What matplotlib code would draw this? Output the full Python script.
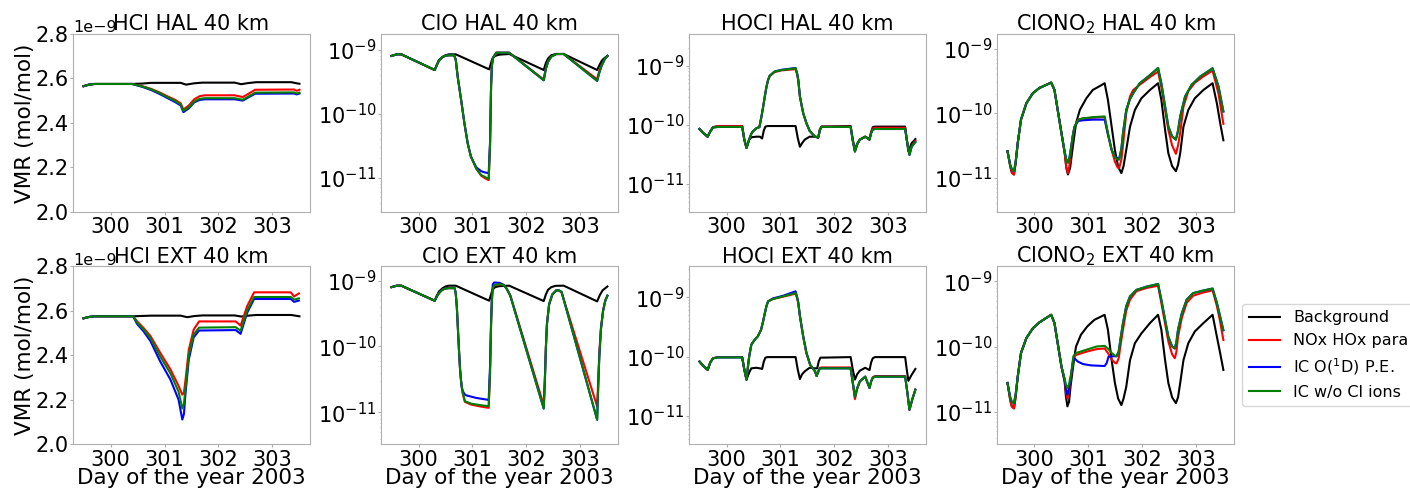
import numpy as np
import matplotlib
matplotlib.use("Agg")
import matplotlib.pyplot as plt

# ---------------- labels ----------------
series_labels = ["Background", "NOx HOx para", r"IC O($^1$D) P.E.", "IC w/o Cl ions"]
series_colors = ["black", "red", "blue", "green"]
species = ["HCl", "ClO", "HOCl", r"ClONO$_2$"]
runs = ["HAL", "EXT"]
xticks = [300, 301, 302, 303]
hcl_yticks = [2.0e-9, 2.2e-9, 2.4e-9, 2.6e-9, 2.8e-9]

# ---------------- HCl (values in 1e-9 mol/mol) ----------------
hcl_hal_bg = [(299.50, 2.565), (299.60, 2.572), (299.70, 2.575), (300.40, 2.575), (300.60, 2.577), (300.75, 2.580),
              (301.30, 2.580), (301.40, 2.572), (301.55, 2.578), (301.70, 2.581), (302.30, 2.581), (302.42, 2.574),
              (302.55, 2.579), (302.70, 2.583), (303.35, 2.583), (303.45, 2.578), (303.50, 2.576)]
hcl_hal_nox = [(299.50, 2.565), (299.60, 2.572), (299.70, 2.575), (300.40, 2.575), (300.50, 2.570), (300.60, 2.564),
               (300.75, 2.553), (300.90, 2.538), (301.05, 2.520), (301.20, 2.503), (301.30, 2.488), (301.35, 2.460),
               (301.45, 2.478), (301.55, 2.506), (301.65, 2.520), (301.75, 2.524), (302.30, 2.524), (302.45, 2.516),
               (302.55, 2.530), (302.68, 2.549), (303.40, 2.550), (303.45, 2.544), (303.50, 2.549)]
hcl_hal_o1d = [(299.50, 2.565), (299.60, 2.572), (299.70, 2.575), (300.40, 2.575), (300.50, 2.568), (300.60, 2.561),
               (300.75, 2.548), (300.90, 2.531), (301.05, 2.512), (301.20, 2.493), (301.30, 2.478), (301.35, 2.448),
               (301.45, 2.465), (301.55, 2.492), (301.65, 2.503), (301.75, 2.506), (302.30, 2.506), (302.45, 2.500),
               (302.55, 2.514), (302.68, 2.531), (303.40, 2.532), (303.45, 2.528), (303.50, 2.532)]
hcl_hal_nocl = [(299.50, 2.565), (299.60, 2.572), (299.70, 2.575), (300.40, 2.575), (300.50, 2.569), (300.60, 2.563),
                (300.75, 2.551), (300.90, 2.535), (301.05, 2.516), (301.20, 2.498), (301.30, 2.483), (301.35, 2.454),
                (301.45, 2.470), (301.55, 2.496), (301.65, 2.508), (301.75, 2.511), (302.30, 2.511), (302.45, 2.504),
                (302.55, 2.518), (302.68, 2.536), (303.40, 2.537), (303.45, 2.532), (303.50, 2.536)]

hcl_ext_bg = [(299.50, 2.566), (299.60, 2.572), (299.70, 2.575), (300.40, 2.575), (300.75, 2.578), (301.30, 2.578),
              (301.42, 2.571), (301.55, 2.576), (301.70, 2.579), (302.30, 2.579), (302.42, 2.574), (302.55, 2.578),
              (302.70, 2.581), (303.35, 2.581), (303.45, 2.577), (303.50, 2.575)]
hcl_ext_nox = [(299.50, 2.566), (299.60, 2.572), (299.70, 2.575), (300.42, 2.575), (300.49, 2.553), (300.61, 2.523),
               (300.74, 2.486), (300.92, 2.411), (301.11, 2.336), (301.26, 2.262), (301.33, 2.222), (301.36, 2.232),
               (301.39, 2.290), (301.45, 2.424), (301.54, 2.515), (301.64, 2.552), (302.32, 2.552), (302.41, 2.533),
               (302.53, 2.620), (302.66, 2.683), (303.34, 2.683), (303.40, 2.664), (303.49, 2.678)]
hcl_ext_o1d = [(299.50, 2.566), (299.60, 2.572), (299.70, 2.575), (300.42, 2.575), (300.49, 2.541), (300.61, 2.508),
               (300.74, 2.463), (300.92, 2.372), (301.11, 2.290), (301.26, 2.200), (301.33, 2.110), (301.36, 2.135),
               (301.39, 2.230), (301.45, 2.380), (301.54, 2.480), (301.64, 2.511), (302.32, 2.513), (302.41, 2.496),
               (302.53, 2.590), (302.66, 2.653), (303.34, 2.653), (303.40, 2.640), (303.49, 2.646)]
hcl_ext_nocl = [(299.50, 2.566), (299.60, 2.572), (299.70, 2.575), (300.42, 2.575), (300.49, 2.547), (300.61, 2.516),
                (300.74, 2.476), (300.92, 2.394), (301.11, 2.318), (301.26, 2.236), (301.33, 2.160), (301.36, 2.180),
                (301.39, 2.255), (301.45, 2.400), (301.54, 2.493), (301.64, 2.524), (302.32, 2.526), (302.41, 2.510),
                (302.53, 2.600), (302.66, 2.662), (303.34, 2.662), (303.40, 2.650), (303.49, 2.656)]

# ---------------- ClO (log10 of mol/mol) ----------------
clo_hal_bg = [(299.50, -9.10), (299.60, -9.075), (299.68, -9.075), (300.30, -9.32), (300.34, -9.24), (300.38, -9.165),
              (300.44, -9.12), (300.50, -9.09), (300.56, -9.075), (300.69, -9.075), (301.31, -9.31), (301.34, -9.22),
              (301.37, -9.14), (301.42, -9.10), (301.50, -9.08), (301.68, -9.07), (302.32, -9.32), (302.36, -9.21),
              (302.40, -9.14), (302.46, -9.09), (302.54, -9.072), (302.69, -9.07), (303.31, -9.32), (303.36, -9.23),
              (303.40, -9.17), (303.45, -9.13), (303.50, -9.10)]
clo_hal_nox = [(299.50, -9.10), (299.60, -9.075), (299.68, -9.075), (300.30, -9.32), (300.34, -9.24), (300.38, -9.17),
               (300.44, -9.12), (300.50, -9.095), (300.56, -9.09), (300.66, -9.09), (300.69, -9.16), (300.725, -9.42),
               (300.76, -9.62), (300.79, -9.79), (300.85, -10.15), (300.91, -10.46), (300.97, -10.67), (301.07, -10.86),
               (301.16, -10.97), (301.23, -11.01), (301.30, -11.04), (301.325, -10.50), (301.345, -9.55), (301.36, -9.25),
               (301.38, -9.13), (301.44, -9.05), (301.68, -9.05), (302.32, -9.47), (302.36, -9.29), (302.40, -9.19),
               (302.46, -9.11), (302.55, -9.07), (302.69, -9.07), (303.31, -9.465), (303.35, -9.33), (303.39, -9.25),
               (303.45, -9.15), (303.50, -9.10)]
clo_hal_o1d = [(299.50, -9.10), (299.60, -9.075), (299.68, -9.075), (300.30, -9.32), (300.34, -9.24), (300.38, -9.17),
               (300.44, -9.12), (300.50, -9.095), (300.56, -9.09), (300.66, -9.09), (300.69, -9.16), (300.725, -9.42),
               (300.76, -9.62), (300.79, -9.79), (300.85, -10.15), (300.91, -10.46), (300.97, -10.67), (301.07, -10.84),
               (301.16, -10.90), (301.23, -10.92), (301.30, -10.93), (301.325, -10.45), (301.345, -9.55), (301.36, -9.25),
               (301.38, -9.13), (301.44, -9.05), (301.68, -9.05), (302.32, -9.48), (302.36, -9.30), (302.40, -9.19),
               (302.46, -9.11), (302.55, -9.07), (302.69, -9.07), (303.31, -9.49), (303.35, -9.36), (303.39, -9.26),
               (303.45, -9.15), (303.50, -9.10)]
clo_hal_nocl = [(299.50, -9.10), (299.60, -9.075), (299.68, -9.075), (300.30, -9.32), (300.34, -9.24), (300.38, -9.17),
                (300.44, -9.12), (300.50, -9.095), (300.56, -9.09), (300.66, -9.09), (300.69, -9.16), (300.725, -9.42),
                (300.76, -9.62), (300.79, -9.79), (300.85, -10.15), (300.91, -10.46), (300.97, -10.67), (301.07, -10.86),
                (301.16, -10.96), (301.23, -10.99), (301.30, -11.02), (301.325, -10.50), (301.345, -9.55), (301.36, -9.25),
                (301.38, -9.13), (301.44, -9.05), (301.68, -9.05), (302.32, -9.48), (302.36, -9.30), (302.40, -9.19),
                (302.46, -9.11), (302.55, -9.07), (302.69, -9.07), (303.31, -9.49), (303.35, -9.36), (303.39, -9.26),
                (303.45, -9.15), (303.50, -9.10)]

clo_ext_bg = [(299.50, -9.10), (299.60, -9.078), (299.68, -9.078), (300.30, -9.306), (300.34, -9.23), (300.38, -9.165),
              (300.44, -9.12), (300.50, -9.09), (300.56, -9.078), (300.69, -9.078), (301.31, -9.306), (301.34, -9.22),
              (301.37, -9.14), (301.42, -9.10), (301.50, -9.085), (301.68, -9.078), (302.32, -9.311), (302.36, -9.21),
              (302.40, -9.14), (302.46, -9.10), (302.54, -9.08), (302.69, -9.078), (303.31, -9.316), (303.36, -9.22),
              (303.41, -9.15), (303.50, -9.09)]
clo_ext_nox = [(299.50, -9.10), (299.60, -9.078), (299.68, -9.078), (300.30, -9.306), (300.34, -9.24), (300.38, -9.19),
               (300.44, -9.14), (300.50, -9.12), (300.56, -9.115), (300.67, -9.115), (300.69, -9.20), (300.71, -9.40),
               (300.725, -9.65), (300.74, -9.90), (300.756, -10.15), (300.77, -10.35), (300.787, -10.51), (300.818, -10.71),
               (300.86, -10.84), (300.97, -10.88), (301.15, -10.91), (301.30, -10.93), (301.325, -10.40), (301.345, -9.65),
               (301.36, -9.30), (301.376, -9.12), (301.40, -9.07), (301.50, -9.055), (301.58, -9.07), (301.63, -9.12),
               (301.70, -9.22), (302.32, -10.89), (302.34, -10.50), (302.36, -10.00), (302.38, -9.65), (302.42, -9.36),
               (302.48, -9.21), (302.55, -9.15), (302.60, -9.15), (302.65, -9.18), (303.31, -10.91), (303.33, -10.50),
               (303.35, -10.10), (303.38, -9.72), (303.42, -9.45), (303.46, -9.30), (303.50, -9.23)]
clo_ext_o1d = [(299.50, -9.10), (299.60, -9.078), (299.68, -9.078), (300.30, -9.306), (300.34, -9.24), (300.38, -9.19),
               (300.44, -9.14), (300.50, -9.12), (300.56, -9.115), (300.67, -9.115), (300.69, -9.20), (300.71, -9.40),
               (300.725, -9.65), (300.74, -9.90), (300.756, -10.15), (300.77, -10.35), (300.787, -10.51), (300.80, -10.62),
               (300.818, -10.67), (300.85, -10.72), (300.88, -10.74), (301.07, -10.78), (301.30, -10.81), (301.325, -10.30),
               (301.345, -9.60), (301.36, -9.25), (301.376, -9.06), (301.40, -9.03), (301.50, -9.035), (301.58, -9.065),
               (301.63, -9.12), (301.70, -9.23), (302.32, -10.94), (302.34, -10.55), (302.36, -10.02), (302.38, -9.66),
               (302.42, -9.36), (302.48, -9.21), (302.55, -9.15), (302.60, -9.15), (302.65, -9.17), (303.31, -11.11),
               (303.33, -10.60), (303.35, -10.15), (303.38, -9.74), (303.42, -9.46), (303.46, -9.31), (303.50, -9.23)]
clo_ext_nocl = [(299.50, -9.10), (299.60, -9.078), (299.68, -9.078), (300.30, -9.306), (300.34, -9.24), (300.38, -9.19),
                (300.44, -9.14), (300.50, -9.12), (300.56, -9.115), (300.67, -9.115), (300.69, -9.20), (300.71, -9.40),
                (300.725, -9.65), (300.74, -9.90), (300.756, -10.15), (300.77, -10.35), (300.787, -10.51), (300.818, -10.70),
                (300.86, -10.83), (300.97, -10.865), (301.15, -10.89), (301.30, -10.905), (301.325, -10.40), (301.345, -9.65),
                (301.36, -9.30), (301.376, -9.12), (301.40, -9.07), (301.50, -9.053), (301.58, -9.07), (301.63, -9.12),
                (301.70, -9.23), (302.32, -10.94), (302.34, -10.55), (302.36, -10.02), (302.38, -9.66), (302.42, -9.36),
                (302.48, -9.21), (302.55, -9.15), (302.60, -9.15), (302.65, -9.17), (303.31, -11.11), (303.33, -10.60),
                (303.35, -10.15), (303.38, -9.74), (303.42, -9.46), (303.46, -9.31), (303.50, -9.23)]

# ---------------- HOCl (log10 of mol/mol) ----------------
hocl_hal_bg = [(299.50, -10.07), (299.56, -10.13), (299.65, -10.20), (299.70, -10.11), (299.75, -10.04), (299.85, -10.02),
               (300.29, -10.02), (300.33, -10.25), (300.37, -10.39), (300.42, -10.25), (300.46, -10.21), (300.55, -10.20),
               (300.62, -10.20), (300.66, -10.23), (300.69, -10.10), (300.72, -10.03), (300.76, -10.02), (301.28, -10.02),
               (301.32, -10.22), (301.36, -10.37), (301.40, -10.31), (301.45, -10.25), (301.54, -10.20), (301.64, -10.20),
               (301.70, -10.22), (301.73, -10.08), (301.76, -10.03), (302.30, -10.02), (302.34, -10.25), (302.38, -10.43),
               (302.42, -10.32), (302.47, -10.25), (302.57, -10.20), (302.65, -10.24), (302.68, -10.12), (302.71, -10.04),
               (302.75, -10.03), (303.31, -10.03), (303.34, -10.25), (303.37, -10.45), (303.43, -10.31), (303.50, -10.24)]
hocl_hal_nox = [(299.50, -10.07), (299.56, -10.13), (299.65, -10.20), (299.70, -10.11), (299.75, -10.04), (299.85, -10.02),
                (300.29, -10.02), (300.33, -10.25), (300.37, -10.39), (300.42, -10.25), (300.46, -10.15), (300.49, -10.11),
                (300.55, -10.06), (300.61, -10.03), (300.65, -9.85), (300.68, -9.69), (300.71, -9.52), (300.74, -9.36),
                (300.77, -9.25), (300.80, -9.18), (300.89, -9.11), (301.02, -9.08), (301.28, -9.06), (301.31, -9.15),
                (301.33, -9.25), (301.36, -9.52), (301.42, -9.80), (301.48, -9.97), (301.54, -10.10), (301.64, -10.20),
                (301.70, -10.21), (301.73, -10.08), (301.76, -10.03), (302.30, -10.03), (302.34, -10.26), (302.38, -10.45),
                (302.42, -10.33), (302.47, -10.25), (302.57, -10.20), (302.65, -10.25), (302.68, -10.13), (302.71, -10.06),
                (302.75, -10.05), (303.31, -10.05), (303.35, -10.30), (303.39, -10.49), (303.43, -10.36), (303.50, -10.27)]
hocl_hal_o1d = [(299.50, -10.07), (299.56, -10.13), (299.65, -10.20), (299.70, -10.11), (299.75, -10.045), (299.85, -10.035),
                (300.29, -10.035), (300.33, -10.25), (300.37, -10.39), (300.42, -10.25), (300.46, -10.15), (300.49, -10.11),
                (300.55, -10.06), (300.61, -10.04), (300.65, -9.85), (300.68, -9.69), (300.71, -9.52), (300.74, -9.36),
                (300.77, -9.24), (300.80, -9.17), (300.89, -9.10), (301.02, -9.07), (301.28, -9.04), (301.31, -9.14),
                (301.33, -9.24), (301.36, -9.52), (301.42, -9.80), (301.48, -9.97), (301.54, -10.10), (301.64, -10.20),
                (301.70, -10.21), (301.73, -10.09), (301.76, -10.035), (302.30, -10.035), (302.34, -10.27), (302.38, -10.45),
                (302.42, -10.33), (302.47, -10.25), (302.57, -10.20), (302.65, -10.25), (302.68, -10.14), (302.71, -10.08),
                (302.75, -10.07), (303.31, -10.07), (303.35, -10.31), (303.39, -10.51), (303.43, -10.37), (303.50, -10.29)]
hocl_hal_nocl = [(299.50, -10.07), (299.56, -10.13), (299.65, -10.20), (299.70, -10.11), (299.75, -10.045), (299.85, -10.035),
                 (300.29, -10.035), (300.33, -10.25), (300.37, -10.39), (300.42, -10.25), (300.46, -10.15), (300.49, -10.11),
                 (300.55, -10.06), (300.61, -10.04), (300.65, -9.85), (300.68, -9.69), (300.71, -9.52), (300.74, -9.36),
                 (300.77, -9.24), (300.80, -9.17), (300.89, -9.10), (301.02, -9.075), (301.28, -9.045), (301.31, -9.14),
                 (301.33, -9.24), (301.36, -9.52), (301.42, -9.80), (301.48, -9.97), (301.54, -10.10), (301.64, -10.20),
                 (301.70, -10.21), (301.73, -10.09), (301.76, -10.035), (302.30, -10.035), (302.34, -10.27), (302.38, -10.45),
                 (302.42, -10.33), (302.47, -10.25), (302.57, -10.20), (302.65, -10.25), (302.68, -10.14), (302.71, -10.08),
                 (302.75, -10.07), (303.31, -10.07), (303.35, -10.31), (303.39, -10.51), (303.43, -10.37), (303.50, -10.29)]

hocl_ext_bg = [(299.50, -10.085), (299.56, -10.15), (299.65, -10.225), (299.70, -10.10), (299.75, -10.03), (299.85, -10.01),
               (300.29, -10.01), (300.33, -10.22), (300.37, -10.39), (300.42, -10.27), (300.46, -10.20), (300.55, -10.19),
               (300.62, -10.20), (300.66, -10.21), (300.69, -10.09), (300.72, -10.02), (300.76, -10.01), (301.28, -10.01),
               (301.32, -10.22), (301.36, -10.38), (301.40, -10.30), (301.45, -10.25), (301.54, -10.19), (301.64, -10.20),
               (301.68, -10.20), (301.71, -10.08), (301.74, -10.02), (302.30, -10.01), (302.34, -10.22), (302.38, -10.39),
               (302.42, -10.30), (302.47, -10.24), (302.57, -10.19), (302.65, -10.23), (302.68, -10.10), (302.71, -10.03),
               (302.75, -10.01), (303.31, -10.01), (303.34, -10.22), (303.37, -10.41), (303.43, -10.31), (303.50, -10.21)]
hocl_ext_nox = [(299.50, -10.085), (299.56, -10.15), (299.65, -10.225), (299.70, -10.10), (299.75, -10.03), (299.85, -10.01),
                (300.29, -10.01), (300.33, -10.22), (300.37, -10.39), (300.40, -10.15), (300.42, -10.00), (300.46, -9.80),
                (300.52, -9.72), (300.58, -9.66), (300.64, -9.55), (300.68, -9.40), (300.71, -9.27), (300.74, -9.15),
                (300.77, -9.07), (300.86, -9.03), (301.05, -8.99), (301.28, -8.94), (301.31, -9.02), (301.33, -9.10),
                (301.36, -9.32), (301.42, -9.66), (301.48, -9.94), (301.55, -10.14), (301.64, -10.25), (301.67, -10.33),
                (301.70, -10.25), (301.73, -10.19), (301.77, -10.185), (302.30, -10.185), (302.34, -10.45), (302.38, -10.72),
                (302.42, -10.55), (302.47, -10.42), (302.57, -10.34), (302.65, -10.53), (302.68, -10.42), (302.71, -10.35),
                (302.75, -10.33), (303.31, -10.33), (303.35, -10.60), (303.39, -10.90), (303.45, -10.70), (303.50, -10.56)]
hocl_ext_o1d = [(299.50, -10.085), (299.56, -10.15), (299.65, -10.225), (299.70, -10.10), (299.75, -10.03), (299.85, -10.015),
                (300.29, -10.015), (300.33, -10.22), (300.37, -10.39), (300.40, -10.15), (300.42, -10.00), (300.46, -9.80),
                (300.52, -9.72), (300.58, -9.66), (300.64, -9.55), (300.68, -9.40), (300.71, -9.27), (300.74, -9.15),
                (300.77, -9.07), (300.86, -9.02), (301.05, -8.975), (301.28, -8.90), (301.31, -9.00), (301.33, -9.09),
                (301.36, -9.31), (301.42, -9.65), (301.48, -9.93), (301.55, -10.14), (301.64, -10.25), (301.67, -10.33),
                (301.70, -10.26), (301.73, -10.20), (301.77, -10.20), (302.30, -10.20), (302.34, -10.44), (302.38, -10.68),
                (302.42, -10.54), (302.47, -10.42), (302.57, -10.34), (302.65, -10.53), (302.68, -10.42), (302.71, -10.36),
                (302.75, -10.34), (303.31, -10.34), (303.35, -10.60), (303.39, -10.90), (303.45, -10.70), (303.50, -10.56)]
hocl_ext_nocl = [(299.50, -10.085), (299.56, -10.15), (299.65, -10.225), (299.70, -10.10), (299.75, -10.03), (299.85, -10.015),
                 (300.29, -10.015), (300.33, -10.22), (300.37, -10.39), (300.40, -10.15), (300.42, -10.00), (300.46, -9.80),
                 (300.52, -9.72), (300.58, -9.66), (300.64, -9.55), (300.68, -9.40), (300.71, -9.27), (300.74, -9.15),
                 (300.77, -9.07), (300.86, -9.03), (301.05, -8.985), (301.28, -8.93), (301.31, -9.01), (301.33, -9.10),
                 (301.36, -9.32), (301.42, -9.66), (301.48, -9.94), (301.55, -10.14), (301.64, -10.25), (301.67, -10.33),
                 (301.70, -10.26), (301.73, -10.20), (301.77, -10.20), (302.30, -10.20), (302.34, -10.44), (302.38, -10.68),
                 (302.42, -10.54), (302.47, -10.42), (302.57, -10.34), (302.65, -10.53), (302.68, -10.42), (302.71, -10.36),
                 (302.75, -10.34), (303.31, -10.34), (303.35, -10.60), (303.39, -10.90), (303.45, -10.70), (303.50, -10.56)]

# ---------------- ClONO2 (log10 of mol/mol) ----------------
clono2_hal_bg = [(299.50, -10.59), (299.55, -10.82), (299.58, -10.92), (299.62, -10.95), (299.65, -10.78), (299.69, -10.46),
                 (299.75, -10.10), (299.85, -9.845), (299.97, -9.69), (300.09, -9.61), (300.22, -9.56), (300.31, -9.526),
                 (300.37, -9.64), (300.43, -9.95), (300.50, -10.31), (300.56, -10.62), (300.59, -10.85), (300.62, -10.95),
                 (300.66, -10.85), (300.71, -10.52), (300.77, -10.155), (300.84, -9.95), (300.96, -9.77), (301.08, -9.64),
                 (301.21, -9.58), (301.30, -9.536), (301.36, -9.79), (301.43, -10.21), (301.49, -10.57), (301.55, -10.83),
                 (301.61, -10.93), (301.65, -10.82), (301.70, -10.57), (301.77, -10.21), (301.86, -9.95), (301.98, -9.77),
                 (302.14, -9.64), (302.29, -9.536), (302.35, -9.79), (302.42, -10.26), (302.48, -10.62), (302.55, -10.82),
                 (302.62, -10.90), (302.66, -10.80), (302.70, -10.62), (302.76, -10.21), (302.85, -9.95), (302.97, -9.77),
                 (303.13, -9.64), (303.30, -9.536), (303.38, -9.85), (303.44, -10.15), (303.50, -10.42)]
clono2_hal_nox = [(299.50, -10.59), (299.55, -10.82), (299.58, -10.92), (299.62, -10.95), (299.65, -10.78), (299.69, -10.46),
                  (299.75, -10.10), (299.85, -9.845), (299.97, -9.69), (300.09, -9.61), (300.22, -9.56), (300.31, -9.526),
                  (300.37, -9.64), (300.43, -9.95), (300.50, -10.31), (300.56, -10.62), (300.59, -10.84), (300.62, -10.93),
                  (300.65, -10.80), (300.68, -10.55), (300.71, -10.35), (300.74, -10.21), (300.81, -10.10), (300.90, -10.08),
                  (301.08, -10.07), (301.30, -10.06), (301.36, -10.31), (301.43, -10.57), (301.49, -10.75), (301.54, -10.84),
                  (301.57, -10.85), (301.61, -10.72), (301.64, -10.50), (301.70, -10.00), (301.77, -9.74), (301.83, -9.64),
                  (301.95, -9.56), (302.14, -9.44), (302.29, -9.356), (302.35, -9.59), (302.42, -9.95), (302.48, -10.26),
                  (302.55, -10.50), (302.62, -10.63), (302.66, -10.50), (302.70, -10.30), (302.76, -9.90), (302.85, -9.66),
                  (302.97, -9.53), (303.13, -9.43), (303.30, -9.34), (303.41, -9.70), (303.50, -10.165)]
clono2_hal_o1d = [(299.50, -10.59), (299.55, -10.80), (299.58, -10.87), (299.62, -10.90), (299.65, -10.76), (299.69, -10.46),
                  (299.75, -10.10), (299.85, -9.845), (299.97, -9.69), (300.09, -9.61), (300.22, -9.56), (300.31, -9.526),
                  (300.37, -9.64), (300.43, -9.95), (300.50, -10.31), (300.56, -10.60), (300.59, -10.72), (300.62, -10.76),
                  (300.65, -10.68), (300.68, -10.52), (300.71, -10.35), (300.74, -10.22), (300.81, -10.12), (300.90, -10.11),
                  (301.08, -10.10), (301.30, -10.10), (301.36, -10.33), (301.43, -10.57), (301.49, -10.67), (301.54, -10.70),
                  (301.57, -10.70), (301.61, -10.55), (301.64, -10.31), (301.70, -9.95), (301.77, -9.78), (301.83, -9.69),
                  (301.95, -9.536), (302.14, -9.41), (302.29, -9.30), (302.35, -9.536), (302.42, -9.897), (302.48, -10.206),
                  (302.55, -10.36), (302.62, -10.41), (302.66, -10.27), (302.70, -10.05), (302.79, -9.742), (302.91, -9.562),
                  (303.07, -9.433), (303.30, -9.304), (303.41, -9.588), (303.50, -9.974)]
clono2_hal_nocl = [(299.50, -10.59), (299.55, -10.80), (299.58, -10.87), (299.62, -10.90), (299.65, -10.76), (299.69, -10.46),
                   (299.75, -10.10), (299.85, -9.845), (299.97, -9.69), (300.09, -9.61), (300.22, -9.56), (300.31, -9.526),
                   (300.37, -9.64), (300.43, -9.95), (300.50, -10.31), (300.56, -10.60), (300.59, -10.73), (300.62, -10.77),
                   (300.65, -10.68), (300.68, -10.52), (300.71, -10.35), (300.74, -10.21), (300.81, -10.10), (300.90, -10.08),
                   (301.08, -10.062), (301.30, -10.05), (301.36, -10.31), (301.43, -10.57), (301.49, -10.68), (301.54, -10.72),
                   (301.57, -10.72), (301.61, -10.55), (301.64, -10.31), (301.70, -9.95), (301.77, -9.78), (301.83, -9.69),
                   (301.95, -9.536), (302.14, -9.41), (302.29, -9.30), (302.35, -9.536), (302.42, -9.897), (302.48, -10.206),
                   (302.55, -10.36), (302.62, -10.41), (302.66, -10.27), (302.70, -10.05), (302.79, -9.742), (302.91, -9.562),
                   (303.07, -9.433), (303.30, -9.304), (303.41, -9.588), (303.50, -9.974)]

clono2_ext_bg = [(299.50, -10.56), (299.55, -10.82), (299.58, -10.92), (299.62, -10.95), (299.65, -10.78), (299.69, -10.46),
                 (299.75, -10.10), (299.85, -9.87), (299.97, -9.72), (300.09, -9.63), (300.22, -9.56), (300.31, -9.513),
                 (300.37, -9.64), (300.43, -9.95), (300.50, -10.31), (300.56, -10.55), (300.58, -10.75), (300.61, -10.92),
                 (300.64, -10.85), (300.67, -10.60), (300.70, -10.41), (300.74, -10.15), (300.77, -10.00), (300.86, -9.82),
                 (300.98, -9.69), (301.11, -9.59), (301.30, -9.513), (301.36, -9.74), (301.43, -10.21), (301.49, -10.56),
                 (301.55, -10.80), (301.61, -10.90), (301.65, -10.80), (301.70, -10.62), (301.77, -10.21), (301.86, -9.95),
                 (301.98, -9.80), (302.14, -9.64), (302.29, -9.513), (302.35, -9.74), (302.42, -10.21), (302.48, -10.56),
                 (302.55, -10.78), (302.62, -10.87), (302.66, -10.78), (302.70, -10.56), (302.76, -10.21), (302.85, -9.95),
                 (302.97, -9.77), (303.13, -9.64), (303.30, -9.513), (303.38, -9.85), (303.44, -10.10), (303.50, -10.36)]
clono2_ext_nox = [(299.50, -10.56), (299.55, -10.82), (299.58, -10.92), (299.62, -10.95), (299.65, -10.78), (299.69, -10.46),
                  (299.75, -10.10), (299.85, -9.87), (299.97, -9.72), (300.09, -9.63), (300.22, -9.56), (300.31, -9.513),
                  (300.37, -9.64), (300.43, -9.95), (300.50, -10.31), (300.56, -10.52), (300.58, -10.68), (300.61, -10.80),
                  (300.64, -10.70), (300.68, -10.45), (300.72, -10.18), (300.77, -10.13), (300.96, -10.08), (301.15, -10.04),
                  (301.30, -10.03), (301.36, -10.10), (301.43, -10.20), (301.49, -10.25), (301.52, -10.26), (301.56, -10.18),
                  (301.60, -9.95), (301.64, -9.74), (301.70, -9.45), (301.77, -9.28), (301.89, -9.15), (302.08, -9.10),
                  (302.29, -9.067), (302.35, -9.33), (302.42, -9.65), (302.48, -9.92), (302.55, -10.12), (302.60, -10.18),
                  (302.63, -10.08), (302.66, -9.85), (302.73, -9.56), (302.82, -9.33), (302.94, -9.22), (303.13, -9.17),
                  (303.30, -9.138), (303.38, -9.38), (303.44, -9.62), (303.50, -9.90)]
clono2_ext_o1d = [(299.50, -10.56), (299.55, -10.78), (299.58, -10.85), (299.62, -10.87), (299.65, -10.74), (299.69, -10.46),
                  (299.75, -10.10), (299.85, -9.87), (299.97, -9.72), (300.09, -9.63), (300.22, -9.56), (300.31, -9.513),
                  (300.37, -9.64), (300.43, -9.95), (300.50, -10.31), (300.56, -10.51), (300.58, -10.64), (300.61, -10.74),
                  (300.64, -10.65), (300.68, -10.43), (300.72, -10.20), (300.74, -10.18), (300.80, -10.23), (300.90, -10.27),
                  (301.05, -10.29), (301.30, -10.30), (301.34, -10.25), (301.37, -10.16), (301.43, -10.15), (301.49, -10.15),
                  (301.52, -10.15), (301.56, -10.08), (301.60, -9.85), (301.64, -9.64), (301.70, -9.38), (301.77, -9.23),
                  (301.89, -9.13), (302.08, -9.08), (302.29, -9.04), (302.35, -9.28), (302.42, -9.59), (302.48, -9.85),
                  (302.55, -10.00), (302.60, -10.03), (302.63, -9.93), (302.66, -9.74), (302.73, -9.49), (302.82, -9.28),
                  (302.94, -9.18), (303.13, -9.14), (303.30, -9.11), (303.38, -9.33), (303.44, -9.54), (303.50, -9.75)]
clono2_ext_nocl = [(299.50, -10.56), (299.55, -10.78), (299.58, -10.85), (299.62, -10.87), (299.65, -10.74), (299.69, -10.46),
                   (299.75, -10.10), (299.85, -9.87), (299.97, -9.72), (300.09, -9.63), (300.22, -9.56), (300.31, -9.513),
                   (300.37, -9.64), (300.43, -9.95), (300.50, -10.31), (300.56, -10.50), (300.58, -10.58), (300.61, -10.64),
                   (300.64, -10.58), (300.68, -10.41), (300.72, -10.15), (300.77, -10.10), (300.96, -10.05), (301.15, -10.00),
                   (301.30, -9.99), (301.36, -10.03), (301.43, -10.10), (301.49, -10.14), (301.52, -10.15), (301.56, -10.08),
                   (301.60, -9.85), (301.64, -9.64), (301.70, -9.38), (301.77, -9.23), (301.89, -9.13), (302.08, -9.08),
                   (302.29, -9.04), (302.35, -9.28), (302.42, -9.59), (302.48, -9.85), (302.55, -10.00), (302.60, -10.03),
                   (302.63, -9.93), (302.66, -9.74), (302.73, -9.49), (302.82, -9.28), (302.94, -9.18), (303.13, -9.14),
                   (303.30, -9.11), (303.38, -9.33), (303.44, -9.54), (303.50, -9.75)]

# y-limits of the log panels (log10 of mol/mol)
ylim_log = {
    (0, 1): (-11.532, -8.758), (0, 2): (-11.466, -8.466), (0, 3): (-11.526, -8.773),
    (1, 1): (-11.478, -8.785), (1, 2): (-11.476, -8.479), (1, 3): (-11.497, -8.769),
}

panel_data = {
    (0, 0): [hcl_hal_bg, hcl_hal_nox, hcl_hal_o1d, hcl_hal_nocl],
    (0, 1): [clo_hal_bg, clo_hal_nox, clo_hal_o1d, clo_hal_nocl],
    (0, 2): [hocl_hal_bg, hocl_hal_nox, hocl_hal_o1d, hocl_hal_nocl],
    (0, 3): [clono2_hal_bg, clono2_hal_nox, clono2_hal_o1d, clono2_hal_nocl],
    (1, 0): [hcl_ext_bg, hcl_ext_nox, hcl_ext_o1d, hcl_ext_nocl],
    (1, 1): [clo_ext_bg, clo_ext_nox, clo_ext_o1d, clo_ext_nocl],
    (1, 2): [hocl_ext_bg, hocl_ext_nox, hocl_ext_o1d, hocl_ext_nocl],
    (1, 3): [clono2_ext_bg, clono2_ext_nox, clono2_ext_o1d, clono2_ext_nocl],
}

fig, axes = plt.subplots(2, 4, figsize=(14.1, 4.88), dpi=100)
fig.subplots_adjust(left=0.0516, right=0.8753, bottom=0.0902, top=0.9303, wspace=0.297, hspace=0.308)

spine_col = "#b0b0b0"
handles = []
for (r, c), series in panel_data.items():
    ax = axes[r, c]
    for k, s in enumerate(series):
        t = np.array([p[0] for p in s])
        v = np.array([p[1] for p in s])
        if c == 0:
            y = v * 1e-9
        else:
            y = 10.0 ** v
        ln, = ax.plot(t, y, color=series_colors[k], lw=1.5, label=series_labels[k])
        if r == 1 and c == 3:
            handles.append(ln)
    if c == 0:
        ax.set_ylim(2.0e-9, 2.8e-9)
        ax.set_yticks(hcl_yticks)
        ax.yaxis.OFFSETTEXTPAD = 1.3
        ax.yaxis.get_offset_text().set_fontsize(11.5)
        ax.set_ylabel("VMR (mol/mol)", fontsize=15.5, labelpad=0)
    else:
        ax.set_yscale("log")
        lo, hi = ylim_log[(r, c)]
        ax.set_ylim(10.0 ** lo, 10.0 ** hi)
    ax.set_xlim(299.3, 303.7)
    ax.set_xticks(xticks)
    ax.set_title(f"{species[c]} {runs[r]} 40 km", fontsize=15, pad=2.7, y=1.0)
    if r == 1:
        ax.set_xlabel("Day of the year 2003", fontsize=15.5, labelpad=-1)
    for sp in ax.spines.values():
        sp.set_color(spine_col)
    ax.tick_params(which="both", colors=spine_col, labelcolor="black", labelsize=15)
    ax.tick_params(axis="x", which="major", length=2, pad=2)
    ax.tick_params(axis="y", which="major", length=2, pad=1)
    ax.tick_params(which="minor", length=1)

axes[1, 3].legend(handles, series_labels, loc="center left", bbox_to_anchor=(1.0, 0.5), fontsize=11.5)

fig.savefig("out.png", dpi=100)
